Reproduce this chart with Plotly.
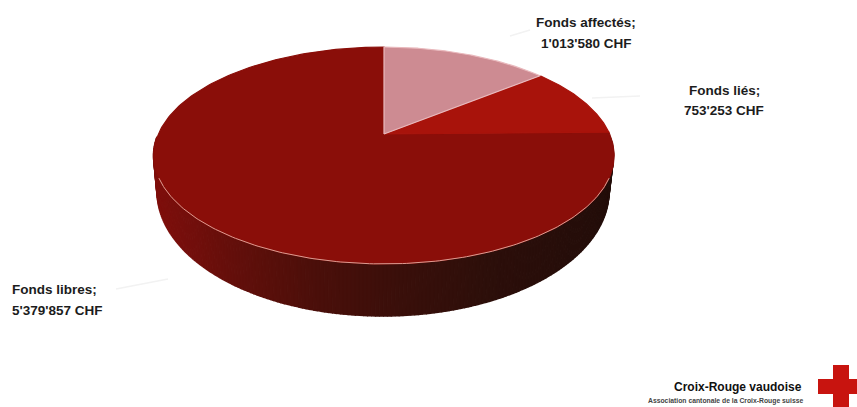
import numpy as np
import plotly.graph_objects as go

# Data
categories = ["Fonds affectés", "Fonds liés", "Fonds libres"]
values = [1013580, 753253, 5379857]
value_labels = ["1'013'580 CHF", "753'253 CHF", "5'379'857 CHF"]
top_colors = ["#cd8b92", "#a8130b", "#8a0e09"]
edge_colors = ["#e9b9bd", "#a8130b", "#8a0e09"]
label_x = [586, 724, 10]
label_y = [(22, 43), (90, 110), (289, 310)]
label_anchor = ["center", "center", "left"]
leader_x = [(510, 530), (592, 640), (116, 168)]
leader_y = [(36, 30), (98, 96), (289, 279)]

# Pie projection (pixels of the 857x407 canvas)
CX, CY = 384.0, 134.0
A, B, K = 225.6, 104.2, 0.198


def project(theta):
    """theta measured clockwise from the top of the pie, radians."""
    u, v = np.sin(theta), np.cos(theta)
    w = 1 + K * v
    return CX + A * u / w, CY - B * v / w


def ellipse(phi, cx, cy, rx, ry):
    """phi measured from the front of the ellipse, radians."""
    return cx + rx * np.sin(phi), cy + ry * np.cos(phi)


fig = go.Figure()

# Side wall, drawn as strips between the rim and the lower outline
wall_stops_x = [153, 200, 250, 320, 400, 500, 613]
wall_stops_rgb = [(128, 16, 12), (112, 15, 12), (94, 15, 11), (74, 15, 10), (58, 15, 10), (44, 15, 10), (36, 14, 10)]
phi_edges = np.linspace(np.radians(-100), np.radians(100), 201)
for p0, p1 in zip(phi_edges[:-1], phi_edges[1:]):
    ps = np.array([p0, p1])
    x_top, y_top = ellipse(ps, 383.5, 155.5, 230, 108.5)
    x_bot, y_bot = ellipse(ps[::-1], 383, 191.5, 226, 124.5)
    xm = x_top.mean()
    rgb = [int(np.interp(xm, wall_stops_x, [c[i] for c in wall_stops_rgb])) for i in range(3)]
    col = f"rgb({rgb[0]},{rgb[1]},{rgb[2]})"
    fig.add_trace(go.Scatter(
        x=np.r_[x_top, x_bot], y=np.r_[y_top, y_bot], mode="lines", fill="toself",
        fillcolor=col, line=dict(color=col, width=1.5), hoverinfo="skip", showlegend=False))

# Top face wedges, angles from the values; the small slices go on top
fractions = np.array(values, dtype=float) / sum(values)
starts = np.r_[0, np.cumsum(fractions)[:-1]] * 2 * np.pi
ends = np.cumsum(fractions) * 2 * np.pi
for i in [2, 1, 0]:
    ts = np.linspace(starts[i], ends[i], 240)
    x, y = project(ts)
    fig.add_trace(go.Scatter(
        x=np.r_[CX, x, CX], y=np.r_[CY, y, CY], mode="lines", fill="toself",
        fillcolor=top_colors[i], line=dict(color=edge_colors[i], width=1.2),
        name=categories[i], hoverinfo="name", showlegend=False))

# Pale highlight along the front rim
ts = np.linspace(np.radians(113), np.radians(247), 160)
x, y = project(ts)
fig.add_trace(go.Scatter(x=x, y=y, mode="lines", line=dict(color="#dc9c92", width=1),
                         hoverinfo="skip", showlegend=False))

# Very faint leader lines
for lx, ly in zip(leader_x, leader_y):
    fig.add_trace(go.Scatter(x=lx, y=ly, mode="lines", line=dict(color="#f2f2f2", width=1.5),
                             hoverinfo="skip", showlegend=False))

# Cross of the logo
fig.add_shape(type="rect", x0=833, x1=849, y0=365, y1=407, fillcolor="#c8140f", line_width=0)
fig.add_shape(type="rect", x0=818, x1=857, y0=379, y1=394, fillcolor="#c8140f", line_width=0)

# Slice labels
for name, txt, lx, (y1, y2), anchor in zip(categories, value_labels, label_x, label_y, label_anchor):
    for line, ly in ((f"{name};", y1), (txt, y2)):
        fig.add_annotation(x=lx, y=ly, text=f"<b>{line}</b>", showarrow=False, xanchor=anchor,
                           font=dict(family="Liberation Sans", size=13.5, color="#1c1c1c"))

# Logo text
fig.add_annotation(x=804, y=387, xanchor="right", text="<b>Croix-Rouge vaudoise</b>", showarrow=False,
                   font=dict(family="Liberation Sans", size=12, color="#111111"))
fig.add_annotation(x=805, y=401, xanchor="right", text="<b>Association cantonale de la Croix-Rouge suisse</b>",
                   showarrow=False, font=dict(family="Liberation Sans", size=6.8, color="#444444"))

fig.update_layout(
    width=857, height=407, margin=dict(l=0, r=0, t=0, b=0),
    paper_bgcolor="white", plot_bgcolor="white", showlegend=False,
    xaxis=dict(range=[0, 857], visible=False, fixedrange=True),
    yaxis=dict(range=[407, 0], visible=False, fixedrange=True),
)
fig.write_html("out.html", config={"displayModeBar": False},
               post_script="document.body.style.margin='0';document.body.style.overflow='hidden';")
